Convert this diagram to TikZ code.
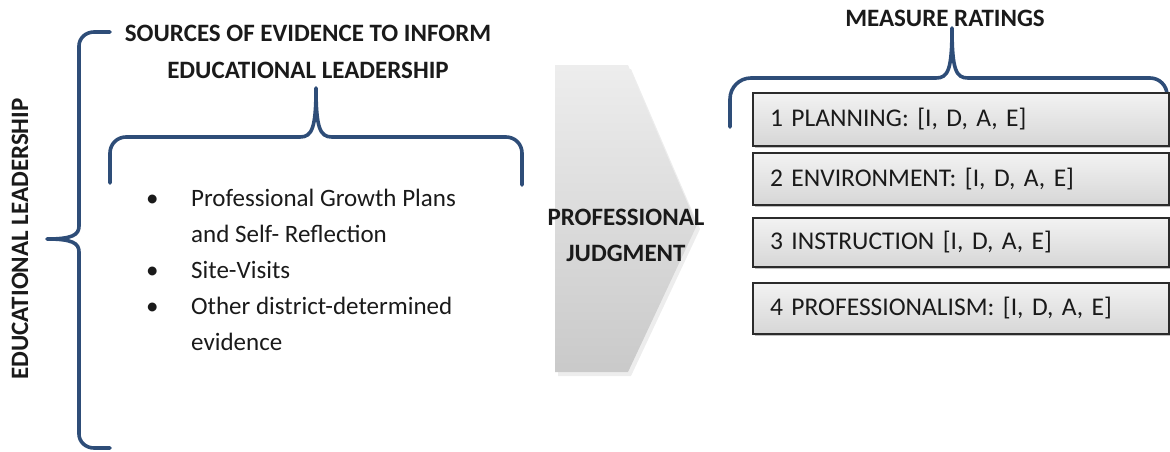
\documentclass[tikz,border=0pt]{standalone}
\usepackage{fontspec}
\setmainfont{Carlito}
\usetikzlibrary{shadows}
\definecolor{braceblue}{HTML}{2E4D78}
\definecolor{txt}{HTML}{1A1A1A}
\definecolor{boxline}{HTML}{2B2B2B}
\tikzset{
  brace/.style={draw=braceblue, line width=3.6pt, line cap=round, line join=round},
  titletext/.style={font=\fontsize{25}{37}\selectfont\bfseries\frenchspacing, text=txt, align=center, inner sep=0pt},
  ratingbox/.style={draw=boxline, line width=1.3pt, top color=gray!10, bottom color=gray!32,
    minimum width=416pt, text width=382pt, align=left, inner xsep=17pt, inner ysep=0pt,
    font=\fontsize{25.5}{28}\selectfont\frenchspacing, text=txt,
    drop shadow={shadow xshift=1.5pt, shadow yshift=-2pt, opacity=0.25, fill=black}},
}
\begin{document}
\begin{tikzpicture}[x=1pt,y=-1pt]
\useasboundingbox (0,0) rectangle (1170,451);
% left big brace
\draw[brace] (110,32) -- (94,32) to[out=180,in=90] (79,46) -- (79,226)
  .. controls (79,235) and (72,239) .. (47,239)
  .. controls (72,239) and (79,243) .. (79,252) -- (79,434)
  to[out=-90,in=180] (94,448) -- (110,448);
\node[titletext, rotate=90] (edlead) at (20,239) {EDUCATIONAL LEADERSHIP};
% sources title
\node[titletext] (sources) at (308,52) {SOURCES OF EVIDENCE TO INFORM\\EDUCATIONAL LEADERSHIP};
% top brace over evidence list
\draw[brace] (110,183) -- (110,153) to[out=90,in=180] (126,137) -- (300,137)
  .. controls (312,137) and (316,128) .. (316,88)
  .. controls (316,128) and (320,137) .. (332,137) -- (506,137)
  to[out=0,in=90] (522,153) -- (522,185);
% evidence list
\node[anchor=base west, inner sep=0pt, text=txt, font=\fontsize{25}{36}\selectfont\frenchspacing] (list) at (146,206)
 {\begin{tabular}[t]{@{}p{45pt}@{}l@{}}
  \textbullet & Professional Growth Plans\\
              & and Self- Reflection\\
  \textbullet & Site-Visits\\
  \textbullet & Other district-determined\\
              & evidence
 \end{tabular}};
% chevron
\fill[gray!40, opacity=0.35] (558,69) -- (631,69) -- (700,229) -- (631,376) -- (558,376) -- cycle;
\shade[top color=gray!14, bottom color=gray!42] (555,65) -- (628,65) -- (697,225) -- (628,372) -- (555,372) -- cycle;
\node[titletext, font=\fontsize{25}{36}\selectfont\bfseries] (judg) at (626,235) {PROFESSIONAL\\JUDGMENT};
% measure ratings
\node[titletext] (measure) at (945,18) {MEASURE RATINGS};
\draw[brace] (730,127) -- (730,99) to[out=90,in=180] (751,78) -- (936,78)
  .. controls (948,78) and (952,70) .. (952,28)
  .. controls (952,70) and (956,78) .. (968,78) -- (1150,78)
  to[out=0,in=90] (1167,95) -- (1167,110);
\node[ratingbox, minimum height=53pt] (r1) at (961,119.5) {1 PLANNING: [I, D, A, E]};
\node[ratingbox, minimum height=52pt] (r2) at (961,179) {2 ENVIRONMENT: [I, D, A, E]};
\node[ratingbox, minimum height=49pt] (r3) at (961,242.5) {3 INSTRUCTION [I, D, A, E]};
\node[ratingbox, minimum height=51pt] (r4) at (961,308.5) {4 PROFESSIONALISM: [I, D, A, E]};
\end{tikzpicture}
\end{document}
